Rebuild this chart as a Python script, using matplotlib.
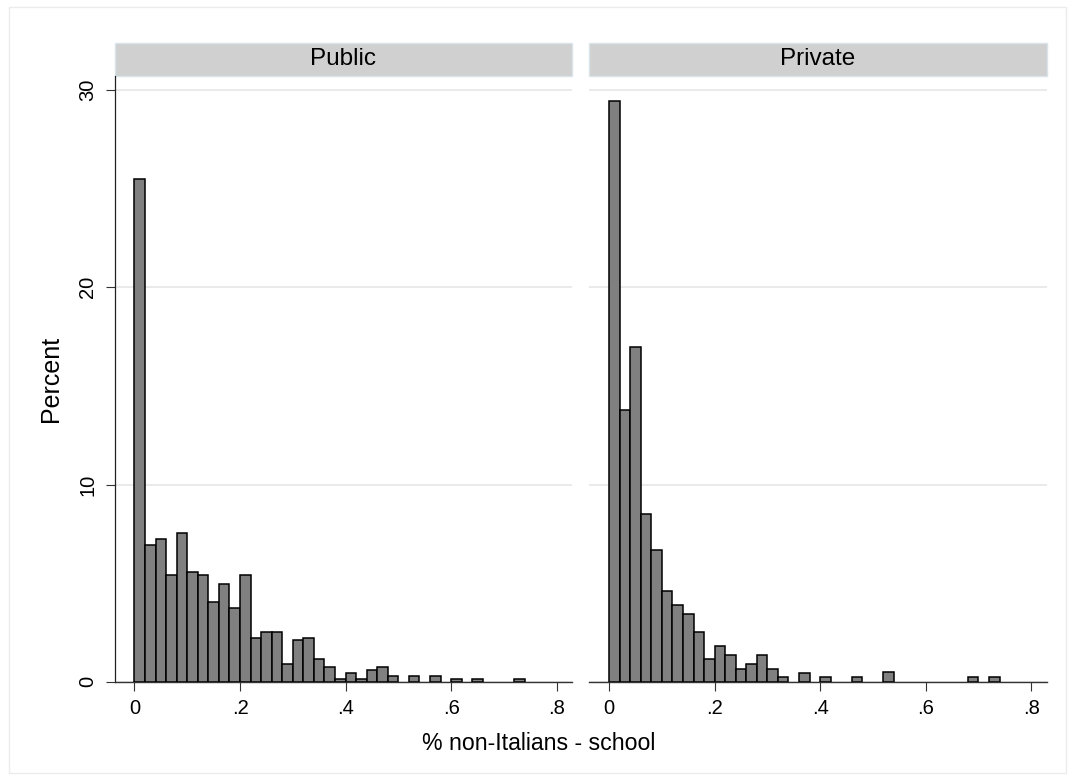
import matplotlib.pyplot as plt
from matplotlib.patches import Rectangle
import numpy as np

plt.rcParams['font.family'] = ['Liberation Sans', 'DejaVu Sans']

# Percent of schools per bin of width .02, starting at 0
bin_width = 0.02
public_pct = [25.5, 6.93, 7.22, 5.41, 7.53, 5.58, 5.41, 4.05, 4.96, 3.73,
              5.41, 2.24, 2.53, 2.53, 0.91, 2.10, 2.24, 1.16, 0.73, 0.15,
              0.45, 0.15, 0.60, 0.75, 0.30, 0.0, 0.30, 0.0, 0.30, 0.0,
              0.15, 0.0, 0.15, 0.0, 0.0, 0.0, 0.15]
private_pct = [29.46, 13.80, 16.99, 8.51, 6.68, 4.61, 3.88, 3.42, 2.51, 1.14,
               1.80, 1.35, 0.66, 0.91, 1.35, 0.66, 0.23, 0.0, 0.44, 0.0,
               0.23, 0.0, 0.0, 0.23, 0.0, 0.0, 0.47, 0.0, 0.0, 0.0,
               0.0, 0.0, 0.0, 0.0, 0.23, 0.0, 0.23]
panels = ['Public', 'Private']
xticks = [0, 0.2, 0.4, 0.6, 0.8]
xtick_labels = ['0', '.2', '.4', '.6', '.8']
yticks = [0, 10, 20, 30]

W, H = 1075, 780
fig = plt.figure(figsize=(W / 100, H / 100), dpi=100)
fig.patch.set_facecolor('white')

# thin frame around the whole graph
fig.patches.append(Rectangle((9 / W, 7 / H), (W - 18) / W, (H - 14) / H,
                             transform=fig.transFigure, fill=False,
                             edgecolor='#ebebeb', linewidth=1.0))

ax_bottom = (H - 681.7) / H
ax_height = (681.7 - 76) / H
lefts = [114.7 / W, 589.3 / W]
ax_width = 457.2 / W
strip_h = 33.3 / (681.7 - 76)

for i, (name, vals) in enumerate(zip(panels, [public_pct, private_pct])):
    ax = fig.add_axes([lefts[i], ax_bottom, ax_width, ax_height])
    vals = np.array(vals)
    edges = np.arange(len(vals)) * bin_width
    keep = vals > 0
    ax.bar(edges[keep], vals[keep], width=bin_width, align='edge',
           color='#808080', edgecolor='black', linewidth=1.1, zorder=3)

    ax.set_xlim(-0.0375, 0.829)
    ax.set_ylim(0, 30.72)
    ax.set_yticks(yticks)
    ax.yaxis.grid(True, color='#e8e8e8', linewidth=1.3, zorder=0)
    ax.set_axisbelow(True)
    ax.set_xticks(xticks)
    ax.set_xticklabels(xtick_labels, fontsize=14.5)
    ax.tick_params(axis='x', direction='out', length=6.5, width=0.8,
                   color='#333333', pad=6)

    for s in ['top', 'right']:
        ax.spines[s].set_visible(False)
    ax.spines['bottom'].set_color('#333333')
    ax.spines['bottom'].set_linewidth(1.0)
    if i == 0:
        ax.spines['left'].set_color('#222222')
        ax.spines['left'].set_linewidth(0.9)
        ax.set_yticklabels([str(t) for t in yticks], fontsize=14.5,
                           rotation=90, va='center')
        ax.tick_params(axis='y', direction='out', length=6.5, width=0.8,
                       color='#333333', pad=6)
        ax.set_ylabel('Percent', fontsize=18, labelpad=11)
    else:
        ax.spines['left'].set_visible(False)
        ax.tick_params(axis='y', length=0, labelleft=False)

    # panel header strip
    ax.add_patch(Rectangle((0, 1), 1, strip_h, transform=ax.transAxes,
                           facecolor='#d0d0d0', edgecolor='#d8e4ea',
                           linewidth=1.0, clip_on=False))
    ax.text(0.5, 1 + strip_h / 2, name, transform=ax.transAxes,
            ha='center', va='center', fontsize=17.5)

fig.text(539 / W, (H - 744) / H, '% non-Italians - school',
         ha='center', va='center', fontsize=16.7)

fig.savefig('out.png', dpi=100)
